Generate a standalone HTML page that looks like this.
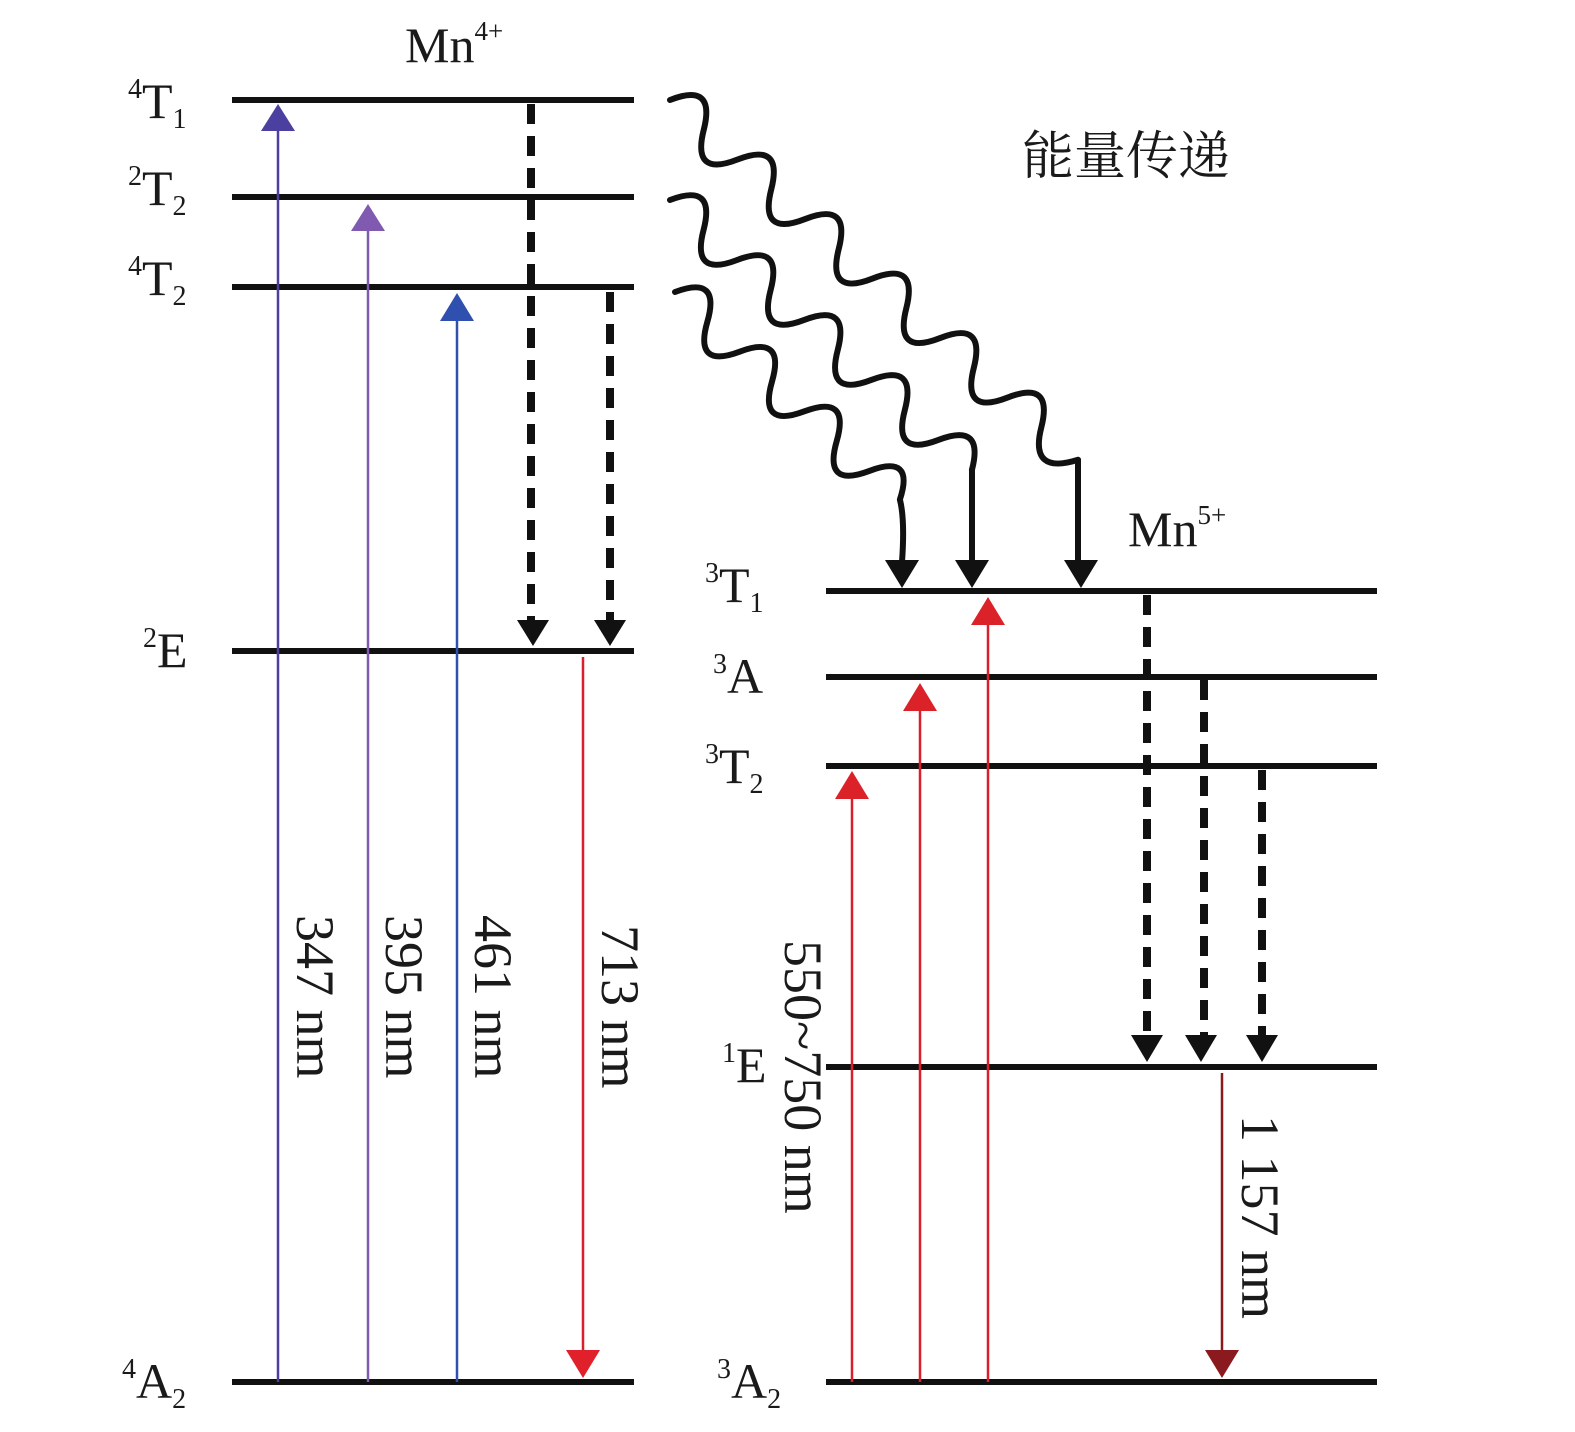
<!DOCTYPE html>
<html><head><meta charset="utf-8"><style>
html,body{margin:0;padding:0;background:#fff}
svg{display:block}
text{font-family:"Liberation Serif","Noto Serif CJK SC",serif;fill:#1a1a1a}
</style></head><body>
<svg width="1575" height="1432" viewBox="0 0 1575 1432" xmlns="http://www.w3.org/2000/svg">
<g stroke="#111" stroke-width="6">
<line x1="232" y1="100" x2="634" y2="100"/>
<line x1="232" y1="197" x2="634" y2="197"/>
<line x1="232" y1="287" x2="634" y2="287"/>
<line x1="232" y1="651" x2="634" y2="651"/>
<line x1="232" y1="1382" x2="634" y2="1382"/>
<line x1="826" y1="591" x2="1377" y2="591"/>
<line x1="826" y1="677" x2="1377" y2="677"/>
<line x1="826" y1="766" x2="1377" y2="766"/>
<line x1="826" y1="1067" x2="1377" y2="1067"/>
<line x1="826" y1="1382" x2="1377" y2="1382"/>
</g>
<line x1="278" y1="1382" x2="278" y2="128" stroke="#4b3fa0" stroke-width="2.5"/>
<polygon points="278,104 261,131 295,131" fill="#4b3fa0"/>
<line x1="368" y1="1382" x2="368" y2="228" stroke="#7f5ab0" stroke-width="2.5"/>
<polygon points="368,204 351,231 385,231" fill="#7f5ab0"/>
<line x1="457" y1="1382" x2="457" y2="318" stroke="#3050b0" stroke-width="2.5"/>
<polygon points="457,293 440,321 474,321" fill="#3050b0"/>
<line x1="583" y1="657" x2="583" y2="1352" stroke="#d9202a" stroke-width="2.5"/>
<polygon points="583,1378 566,1350 600,1350" fill="#e0202a"/>
<g stroke="#111" stroke-width="8" stroke-dasharray="20,12">
<line x1="531" y1="104" x2="531" y2="620"/>
<line x1="610" y1="292" x2="610" y2="620"/>
<line x1="1147" y1="595" x2="1147" y2="1035"/>
<line x1="1204" y1="680" x2="1204" y2="1035"/>
<line x1="1262" y1="770" x2="1262" y2="1035"/>
</g>
<g fill="#111">
<polygon points="533,646 517,620 549,620"/>
<polygon points="610,646 594,620 626,620"/>
<polygon points="1147,1062 1131,1035 1163,1035"/>
<polygon points="1201,1062 1185,1035 1217,1035"/>
<polygon points="1262,1062 1246,1035 1278,1035"/>
<polygon points="902,588 885,560 919,560"/>
<polygon points="972,588 955,560 989,560"/>
<polygon points="1081,588 1064,560 1098,560"/>
</g>
<g stroke="#d9202a" stroke-width="2.5">
<line x1="852" y1="1382" x2="852" y2="790"/>
<line x1="920" y1="1382" x2="920" y2="700"/>
<line x1="988" y1="1382" x2="988" y2="615"/>
</g>
<g fill="#dc2229">
<polygon points="852,771 835,799 869,799"/>
<polygon points="920,683 903,711 937,711"/>
<polygon points="988,597 971,625 1005,625"/>
</g>
<line x1="1222" y1="1073" x2="1222" y2="1352" stroke="#8b1a1e" stroke-width="2.5"/>
<polygon points="1222,1378 1205,1350 1239,1350" fill="#8b1a1e"/>
<g fill="none" stroke="#111" stroke-width="6" stroke-linecap="round" stroke-linejoin="round">
<path transform="translate(670,100) rotate(41.4)" d="M0 0 Q22.5 -44 45 0 T90 0 T135 0 T180 0 T225 0 T270 0 T315 0 T360 0 T405 0 T450 0 T495 0 T544 0"/>
<path d="M1078 460 L1078 562"/>
<path transform="translate(670,200) rotate(41.8)" d="M0 0 Q22.5 -44 45 0 T90 0 T135 0 T180 0 T225 0 T270 0 T315 0 T360 0 T405 0"/>
<path d="M972 470 L972 562"/>
<path transform="translate(675,292) rotate(42.7)" d="M0 0 Q22 -44 44 0 T88 0 T132 0 T176 0 T220 0 T264 0 T306 0"/>
<path d="M900 500 Q905 520 902 562"/>
</g>
<g font-size="50">
<text x="405" y="62">Mn<tspan font-size="27" dy="-22">4+</tspan></text>
<text x="1128" y="546">Mn<tspan font-size="27" dy="-22">5+</tspan></text>
<text x="128" y="118"><tspan font-size="28" dy="-20">4</tspan><tspan dy="20">T</tspan><tspan font-size="28" dy="10">1</tspan></text>
<text x="128" y="205"><tspan font-size="28" dy="-20">2</tspan><tspan dy="20">T</tspan><tspan font-size="28" dy="10">2</tspan></text>
<text x="128" y="295"><tspan font-size="28" dy="-20">4</tspan><tspan dy="20">T</tspan><tspan font-size="28" dy="10">2</tspan></text>
<text x="143" y="667"><tspan font-size="28" dy="-20">2</tspan><tspan dy="20">E</tspan></text>
<text x="122" y="1398"><tspan font-size="28" dy="-20">4</tspan><tspan dy="20">A</tspan><tspan font-size="28" dy="10">2</tspan></text>
<text x="705" y="602"><tspan font-size="28" dy="-20">3</tspan><tspan dy="20">T</tspan><tspan font-size="28" dy="10">1</tspan></text>
<text x="713" y="693"><tspan font-size="28" dy="-20">3</tspan><tspan dy="20">A</tspan></text>
<text x="705" y="783"><tspan font-size="28" dy="-20">3</tspan><tspan dy="20">T</tspan><tspan font-size="28" dy="10">2</tspan></text>
<text x="722" y="1082"><tspan font-size="28" dy="-20">1</tspan><tspan dy="20">E</tspan></text>
<text x="717" y="1398"><tspan font-size="28" dy="-20">3</tspan><tspan dy="20">A</tspan><tspan font-size="28" dy="10">2</tspan></text>
</g>
<g font-size="54">
<text transform="translate(297,915) rotate(90)">347 nm</text>
<text transform="translate(386,915) rotate(90)">395 nm</text>
<text transform="translate(475,915) rotate(90)">461 nm</text>
<text transform="translate(602,925) rotate(90)">713 nm</text>
<text transform="translate(785,940) rotate(90)">550~750 nm</text>
<text transform="translate(1242,1115) rotate(90)">1 157 nm</text>
</g>
<text x="1022" y="174" font-size="52" style="font-family:'Noto Serif CJK SC','Noto Sans CJK SC',serif">能量传递</text>
</svg>
</body></html>
